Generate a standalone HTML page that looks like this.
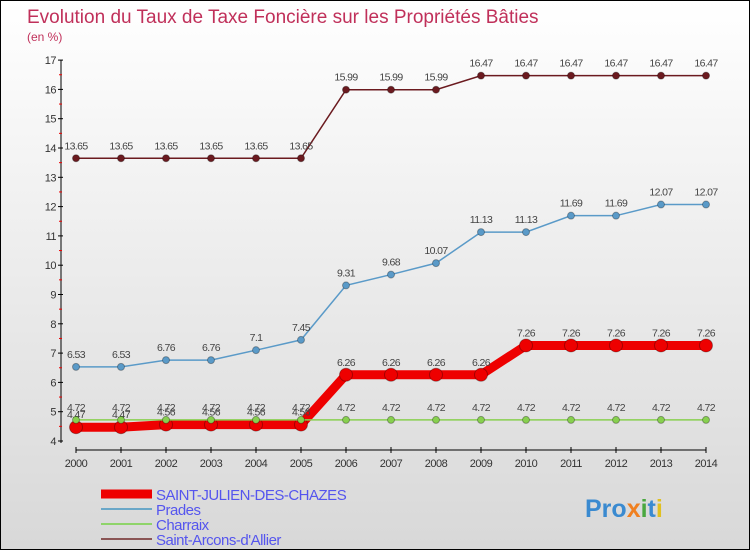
<!DOCTYPE html>
<html><head><meta charset="utf-8"><style>
body{margin:0}
#c{width:748px;height:548px;border:1px solid #000;background:linear-gradient(#fff,#d8d8d8);position:relative;overflow:hidden;font-family:"Liberation Sans",sans-serif}
</style></head><body>
<div id="c">
<svg id="s" width="748" height="548"></svg>
</div>
<script>
const years=[2000,2001,2002,2003,2004,2005,2006,2007,2008,2009,2010,2011,2012,2013,2014];
const yTicks=[4,5,6,7,8,9,10,11,12,13,14,15,16,17];
const saintJulien=[4.47,4.47,4.56,4.56,4.56,4.56,6.26,6.26,6.26,6.26,7.26,7.26,7.26,7.26,7.26];
const prades=[6.53,6.53,6.76,6.76,7.1,7.45,9.31,9.68,10.07,11.13,11.13,11.69,11.69,12.07,12.07];
const charraix=[4.72,4.72,4.72,4.72,4.72,4.72,4.72,4.72,4.72,4.72,4.72,4.72,4.72,4.72,4.72];
const saintArcons=[13.65,13.65,13.65,13.65,13.65,13.65,15.99,15.99,15.99,16.47,16.47,16.47,16.47,16.47,16.47];
const seriesNames=["SAINT-JULIEN-DES-CHAZES","Prades","Charraix","Saint-Arcons-d'Allier"];
const NS="http://www.w3.org/2000/svg";
const s=document.getElementById('s');
const X=i=>75+i*45, Y=v=>440-(v-4)*29.3;
function el(t,a,txt){const e=document.createElementNS(NS,t);for(const k in a)e.setAttribute(k,a[k]);if(txt!==undefined)e.textContent=txt;s.appendChild(e);return e;}
let e;
e=el('text',{x:26,y:22,fill:'#c0305a','font-size':19},'Evolution du Taux de Taxe Foncière sur les Propriétés Bâties');


e=el('text',{x:26,y:40,fill:'#c0305a','font-size':12},'(en %)');


e=el('line',{x1:60,y1:59,x2:60,y2:442,stroke:'#000'});


e=el('line',{x1:75,y1:449,x2:705,y2:449,stroke:'#000'});


yTicks.forEach(v=>{
 el('line',{x1:57,y1:Y(v),x2:62,y2:Y(v),stroke:'#000'});
 if(v<17)el('line',{x1:58,y1:Y(v+0.5),x2:61,y2:Y(v+0.5),stroke:'#e00'});
 e=el('text',{x:55,y:Y(v)+4,'text-anchor':'end','font-size':11,fill:'#333','letter-spacing':'-0.5'},v);
 
 
});
years.forEach((y,i)=>{
 el('line',{x1:X(i),y1:446,x2:X(i),y2:452,stroke:'#000'});
 e=el('text',{x:X(i),y:466,'text-anchor':'middle','font-size':11,fill:'#333','letter-spacing':'-0.5'},y);
 
 
});
function series(data,color,w,r,name){
 e=el('polyline',{points:data.map((v,i)=>X(i)+','+Y(v)).join(' '),fill:'none',stroke:color,'stroke-width':w});
 
 
 data.forEach((v,i)=>{
  e=el('circle',{cx:X(i),cy:Y(v),r:r,fill:color,stroke:'rgba(0,0,0,0.3)'});
  
  
  e=el('text',{x:X(i),y:Y(v)-9,'text-anchor':'middle','font-size':10.5,fill:'#444','letter-spacing':'-0.6'},String(v));
  
  
 });
}
series(saintArcons,'#6b1a1f',1.5,3.5,'saint-arcons');
series(prades,'#5a9ac8',1.5,3.5,'prades');
series(saintJulien,'#ee0000',9,6.5,'saint-julien');
series(charraix,'#88d050',1.5,3.5,'charraix');
const lc=['#ee0000','#6aa7c8','#8fd46a','#8a5555'],lw=[9,2,2,2];
seriesNames.forEach((n,i)=>{
 const y=493+i*15;
 e=el('line',{x1:100,y1:y,x2:151,y2:y,stroke:lc[i],'stroke-width':lw[i]});
 
 
 e=el('text',{x:155,y:y+6,'font-size':15,fill:'#5555ee','letter-spacing':'-0.5'},n);
 
 
});
e=el('text',{x:584,y:516,'font-size':25,'font-weight':'bold',fill:'#3a8ad0'});


e.innerHTML='Pro<tspan fill="#f08020">x</tspan><tspan fill="#4aa840">i</tspan><tspan fill="#3a8ad0">t</tspan><tspan fill="#e0c020">i</tspan>';
</script>
</body></html>
